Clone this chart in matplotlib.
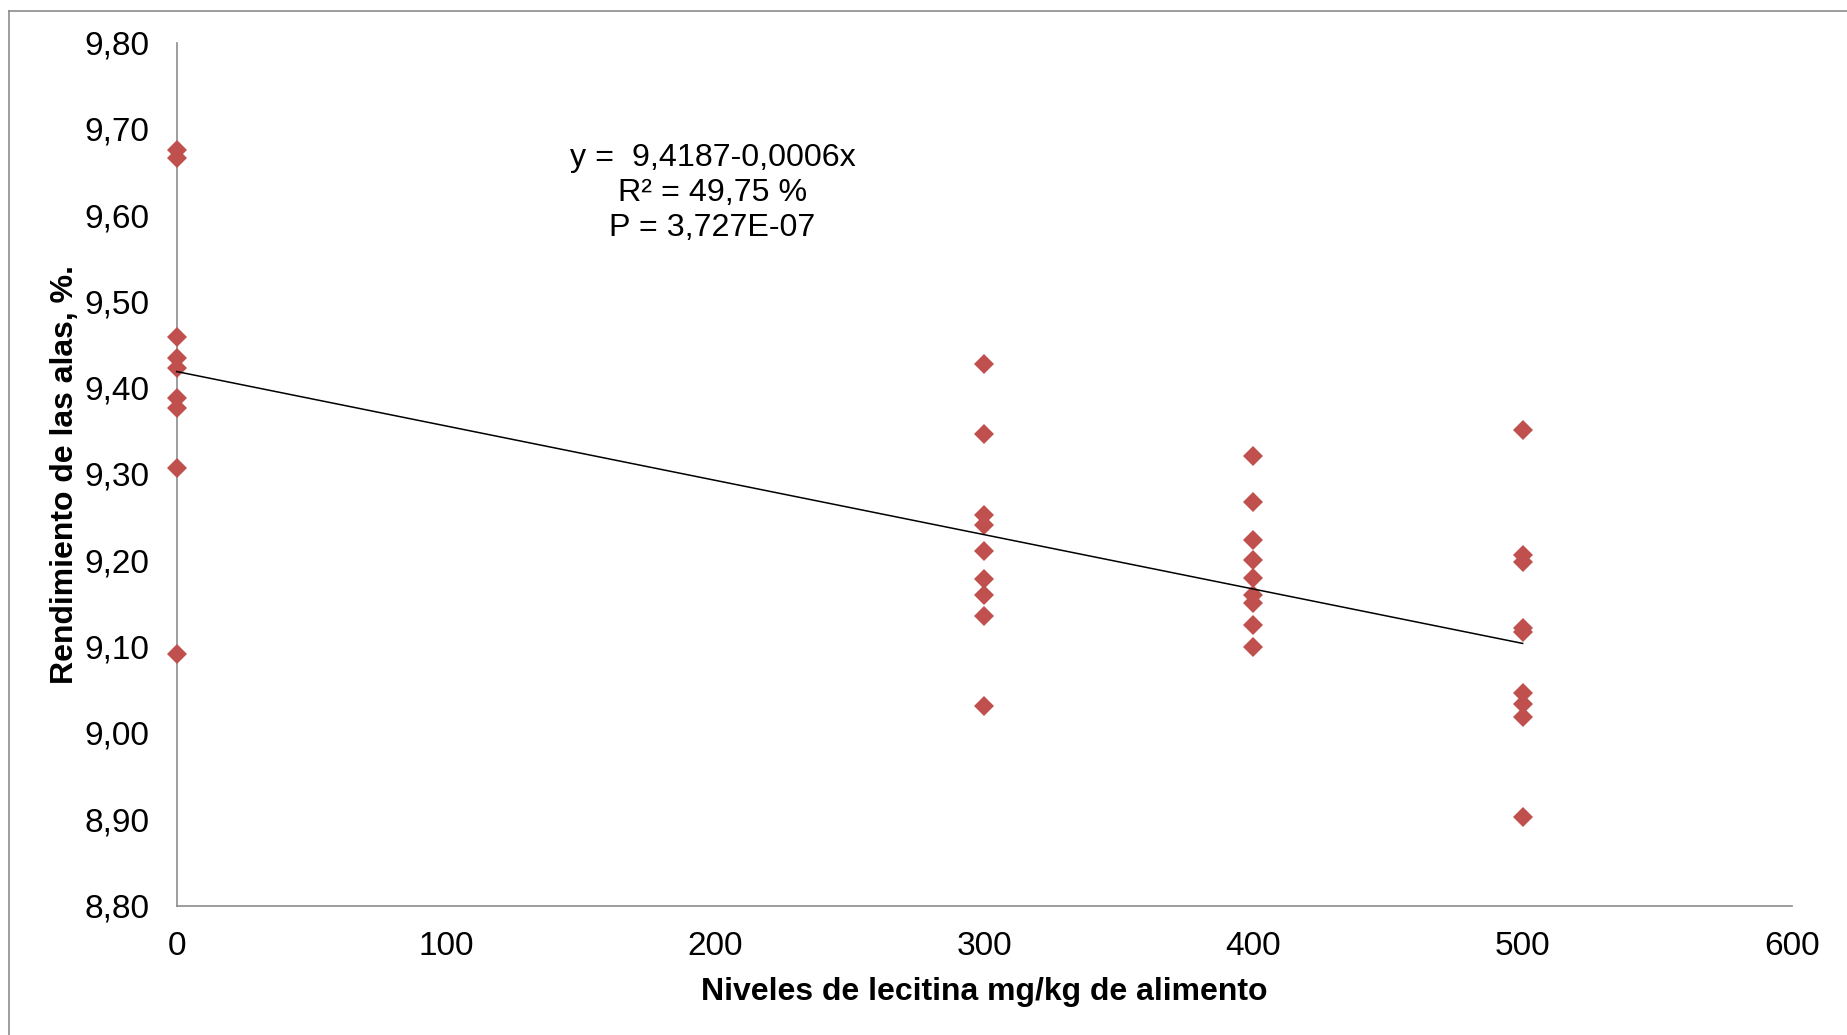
import matplotlib
matplotlib.use("Agg")
import matplotlib.pyplot as plt
from matplotlib.ticker import FuncFormatter, MultipleLocator
from matplotlib.lines import Line2D

plt.rcParams['font.family'] = ['Liberation Sans', 'DejaVu Sans']

# Lecithin level (mg/kg feed) and wing yield (%) per bird
lecitina_0 = [9.675, 9.666, 9.459, 9.434, 9.423, 9.388, 9.376, 9.307, 9.092]
lecitina_300 = [9.428, 9.346, 9.252, 9.241, 9.211, 9.178, 9.160, 9.135, 9.031]
lecitina_400 = [9.321, 9.267, 9.224, 9.200, 9.179, 9.160, 9.151, 9.125, 9.100]
lecitina_500 = [9.351, 9.206, 9.198, 9.122, 9.117, 9.046, 9.033, 9.019, 8.902]
niveles = [0, 300, 400, 500]

# Linear trend: y = a + b x
intercepto = 9.4187
pendiente = -0.00063

x_ticks = [0, 100, 200, 300, 400, 500, 600]
ecuacion = "y =  9,4187-0,0006x\nR² = 49,75 %\nP = 3,727E-07"

W, H, DPI = 1847, 1035, 100
fig = plt.figure(figsize=(W / DPI, H / DPI), dpi=DPI)
fig.patch.set_facecolor("white")

# outer chart frame
fig.add_artist(Line2D([8.5 / W, 8.5 / W], [0, 1 - 11 / H], transform=fig.transFigure,
                      color="#8c8c8c", lw=1.2))
fig.add_artist(Line2D([8.5 / W, 1], [1 - 11 / H, 1 - 11 / H], transform=fig.transFigure,
                      color="#8c8c8c", lw=1.2))

left, right = 176.7 / W, 1791.8 / W
bottom, top = 1 - 905.5 / H, 1 - 42.5 / H
ax = fig.add_axes([left, bottom, right - left, top - bottom])

grupos = [lecitina_0, lecitina_300, lecitina_400, lecitina_500]
xs, ys = [], []
for nivel, vals in zip(niveles, grupos):
    xs += [nivel] * len(vals)
    ys += vals
ax.plot(xs, ys, linestyle="none", marker="D", markersize=10.4,
        color="#C0504D", markeredgewidth=0, zorder=3, clip_on=False)

x0, x1 = min(niveles), max(niveles)
ax.plot([x0, x1], [intercepto + pendiente * x0, intercepto + pendiente * x1],
        color="black", lw=1.1, zorder=4, clip_on=False)

ax.set_xlim(0, 600)
ax.set_ylim(8.80, 9.80)
ax.set_xticks(x_ticks)
ax.yaxis.set_major_locator(MultipleLocator(0.1))
ax.yaxis.set_major_formatter(FuncFormatter(lambda v, p: f"{v:.2f}".replace(".", ",")))
ax.tick_params(axis="both", length=0, labelsize=24, colors="black")
ax.tick_params(axis="y", pad=19.5)
ax.tick_params(axis="x", pad=18.5)

for s in ["top", "right"]:
    ax.spines[s].set_visible(False)
for s in ["left", "bottom"]:
    ax.spines[s].set_color("#8c8c8c")
    ax.spines[s].set_linewidth(1.2)
    ax.spines[s].set_zorder(1)

ax.set_xlabel("Niveles de lecitina mg/kg de alimento", fontsize=23, fontweight="bold",
              labelpad=11)
ax.set_ylabel("Rendimiento de las alas, %.", fontsize=23, fontweight="bold", labelpad=3)

fig.text(712.6 / W, 1 - 193 / H, ecuacion, ha="center", va="center", fontsize=23.2,
         linespacing=1.22)

fig.savefig("out.png", dpi=DPI, facecolor="white")
